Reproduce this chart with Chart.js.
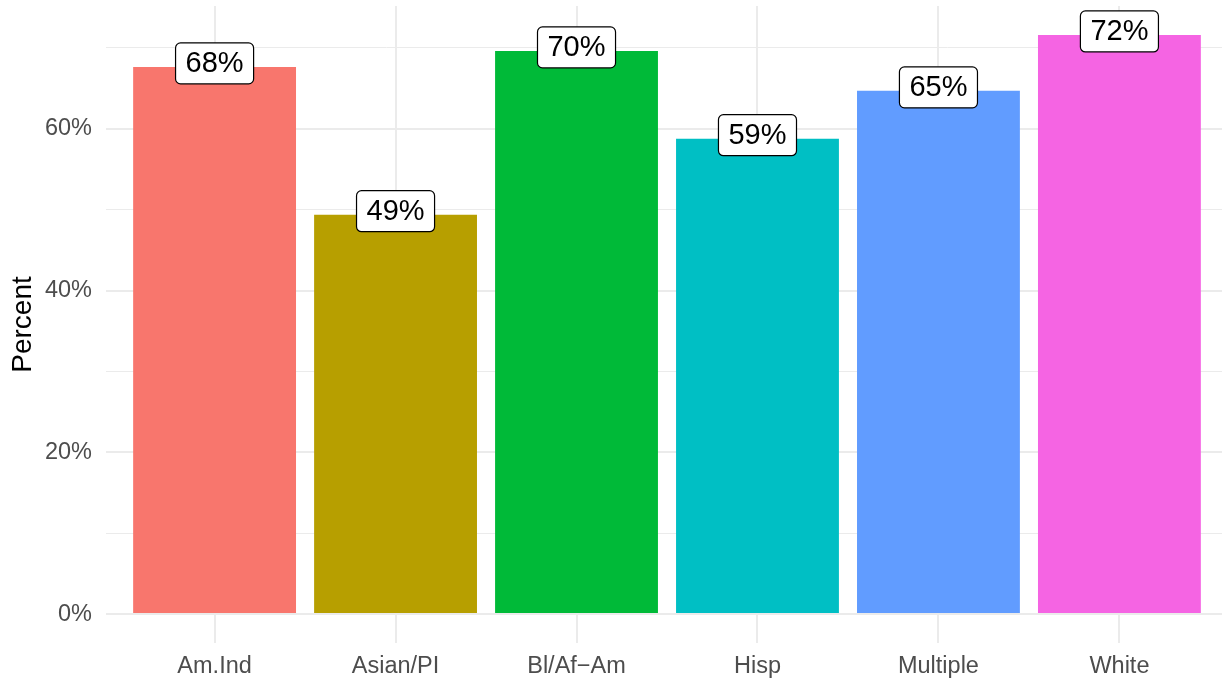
<!DOCTYPE html>
<html>
<head>
<meta charset="utf-8">
<script src="https://cdn.jsdelivr.net/npm/chart.js@4/dist/chart.umd.min.js"></script>
<style>
  html, body { margin: 0; padding: 0; background: #fff; overflow: hidden; }
  #wrap { width: 1228px; height: 682px; }
</style>
</head>
<body>
<div id="wrap"><canvas id="grafico"></canvas></div>
<script>
// Dados
const categorias = ['Am.Ind', 'Asian/PI', 'Bl/Af\u2212Am', 'Hisp', 'Multiple', 'White'];
const percentuais = [67.65, 49.38, 69.63, 58.77, 64.69, 71.6];
const cores = ['#F8766D', '#B79F00', '#00BA38', '#00BFC4', '#619CFF', '#F564E3'];
const ticksY = [0, 20, 40, 60];

const fonte = '"Liberation Sans", Arial, sans-serif';

// expansão de 5% no eixo y e 0.6 no eixo x (como no ggplot)
const maxVal = Math.max(...percentuais);
const yMin = -0.05 * maxVal;
const yMax = maxVal * 1.05;
const expX = 0.6;

// Rótulos com caixa branca em cima de cada barra
const rotulos = {
  id: 'rotulos',
  afterDatasetsDraw(chart) {
    const ctx = chart.ctx;
    const y = chart.scales.y;
    const meta = chart.getDatasetMeta(0);
    ctx.save();
    ctx.font = '29px ' + fonte;
    ctx.textAlign = 'center';
    ctx.textBaseline = 'middle';
    meta.data.forEach((bar, i) => {
      const texto = Math.round(percentuais[i]) + '%';
      const cy = y.getPixelForValue(percentuais[i]) - 3.5;
      const w = ctx.measureText(texto).width + 20;
      const h = 41;
      ctx.beginPath();
      ctx.roundRect(bar.x - w / 2, cy - h / 2, w, h, 5);
      ctx.fillStyle = '#fff';
      ctx.fill();
      ctx.lineWidth = 1.2;
      ctx.strokeStyle = '#000';
      ctx.stroke();
      ctx.fillStyle = '#000';
      ctx.fillText(texto, bar.x, cy + 1);
    });
    ctx.restore();
  }
};

new Chart(document.getElementById('grafico'), {
  type: 'bar',
  data: {
    labels: categorias,
    datasets: [{
      data: percentuais,
      backgroundColor: cores,
      borderWidth: 0,
      categoryPercentage: 1,
      barPercentage: 0.9
    }]
  },
  options: {
    responsive: true,
    maintainAspectRatio: false,
    animation: false,
    layout: { padding: { top: 6, right: 0, left: 0, bottom: 0 } },
    plugins: {
      legend: { display: false },
      tooltip: { enabled: false }
    },
    scales: {
      x: {
        offset: false,
        afterBuildTicks: s => {
          s._startValue = -expX;
          s._valueRange = categorias.length - 1 + 2 * expX;
        },
        afterFit: s => { s.height = 39; s.paddingLeft = 0; s.paddingRight = 0; },
        border: { display: false },
        grid: { color: '#EBEBEB', lineWidth: 2, drawTicks: false, offset: false },
        ticks: { color: '#4D4D4D', font: { family: fonte, size: 23.5 }, padding: 9, maxRotation: 0 }
      },
      y: {
        min: yMin,
        max: yMax,
        afterFit: s => { s.width = 106; s.paddingTop = 0; s.paddingBottom = 0; },
        border: { display: false },
        grid: {
          color: '#EBEBEB',
          drawTicks: false,
          lineWidth: c => (ticksY.includes(c.tick.value) ? 2 : 1)
        },
        ticks: {
          stepSize: 10,
          includeBounds: false,
          padding: 14,
          color: '#4D4D4D',
          font: { family: fonte, size: 23.5 },
          callback: v => (ticksY.includes(v) ? v + '%' : '')
        },
        title: {
          display: true,
          text: 'Percent',
          color: '#000',
          font: { family: fonte, size: 28 },
          padding: { top: 6, bottom: 0 }
        }
      }
    }
  },
  plugins: [rotulos]
});
</script>
</body>
</html>
